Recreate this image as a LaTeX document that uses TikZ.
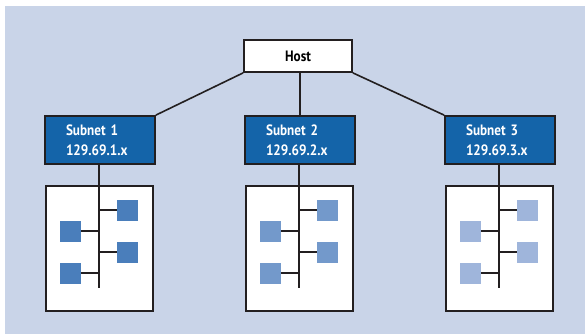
\documentclass[tikz,border=0pt]{standalone}
\usepackage{fontspec}
\setsansfont{PT Sans}[FakeStretch=0.88]
\usetikzlibrary{positioning}
\definecolor{bgblue}{HTML}{C9D4E8}
\definecolor{netblue}{HTML}{1464A9}
\definecolor{inkgray}{HTML}{231F20}
\definecolor{pcA}{HTML}{4A7EBB}
\definecolor{pcB}{HTML}{7399CB}
\definecolor{pcC}{HTML}{9FB5DB}

\begin{document}
\begin{tikzpicture}
	[
	x=1pt, y=-1pt,
	font=\sffamily\bfseries\fontsize{15}{19.5}\selectfont,
	wire/.style = {draw=inkgray, line width=1.6pt},
	hostbox/.style = {draw=inkgray, line width=1.8pt, fill=white, minimum width=108pt, minimum height=32pt, inner sep=0pt},
	netbox/.style = {draw=inkgray, line width=1.8pt, fill=netblue, text=white, align=left, text width=68pt, inner xsep=21pt, inner ysep=0pt, minimum height=48pt},
	lanbox/.style = {draw=inkgray, line width=1.8pt, fill=white, minimum width=107pt, minimum height=125pt, inner sep=0pt},
	pc/.style = {fill=#1, minimum size=21pt, inner sep=0pt}
	]
	\useasboundingbox (0,0) rectangle (585,334);
	\fill[bgblue] (5,6) rectangle (585,334);

	\node[hostbox] (host) at (298,56) {Host};

	% one subnet per column
	\foreach \i/\xc/\col in {1/99/pcA, 2/299/pcB, 3/499/pcC}{
		\node[lanbox] (lan\i) at (\xc+0.5,248.5) {};
		\node[netbox] (net\i) at (\xc+1,140) {Subnet \i\\129.69.\i.x};
		\coordinate (end\i) at (\xc,288);
		\draw[wire] (net\i.south -| end\i) -- (end\i);

		\node[pc=\col] (pc\i a) at (\xc+28.5,210) {};
		\node[pc=\col] (pc\i b) at (\xc-28.5,231) {};
		\node[pc=\col] (pc\i c) at (\xc+28.5,252) {};
		\node[pc=\col] (pc\i d) at (\xc-28.5,273) {};
		\draw[wire] (pc\i a.west -| end\i) -- (pc\i a.west);
		\draw[wire] (pc\i b.east -| end\i) -- (pc\i b.east);
		\draw[wire] (pc\i c.west -| end\i) -- (pc\i c.west);
		\draw[wire] (pc\i d.east -| end\i) -- (pc\i d.east);
	}

	\draw[wire] (host.south west) -- (net1.north east);
	\draw[wire] (host.south -| net2.north) -- (net2.north);
	\draw[wire] (host.south east) -- (net3.north west);
\end{tikzpicture}
\end{document}
